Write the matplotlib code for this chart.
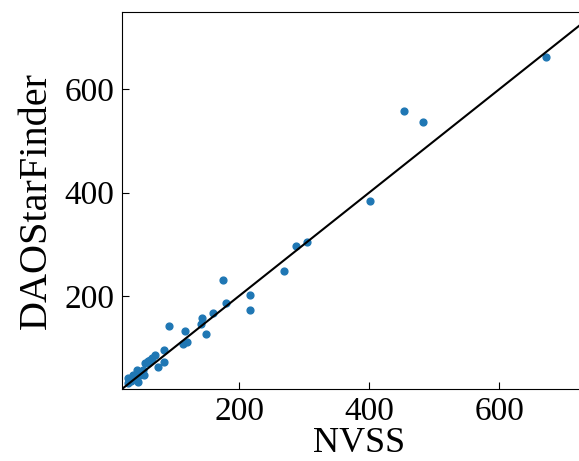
import matplotlib
matplotlib.use('Agg')
import matplotlib.pyplot as plt

# flux comparison: NVSS catalogue vs DAOStarFinder
nvss = [672, 454, 482, 401, 288, 304, 269,
        175, 216, 216, 179, 160, 143, 141, 149, 92, 117, 119, 114, 85,
        85, 75, 71, 60, 66, 62, 52, 44, 39, 34, 29, 54, 44,
        55, 60, 47, 42, 37, 29]
dao = [662, 558, 536, 384, 297, 305, 248,
       230, 202, 172, 187, 166, 158, 145, 126, 142, 131, 111, 106, 96,
       72, 62, 85, 70, 79, 76, 56, 47, 40, 35, 31, 47, 34,
       69, 74, 47, 56, 47, 40]

plt.rcParams['font.family'] = ['Liberation Serif', 'DejaVu Serif']

fig = plt.figure(figsize=(5.79, 4.61), dpi=100)
ax = fig.add_axes([0.21, 0.1555, 0.8207, 0.819])

ax.scatter(nvss, dao, s=24, color='#1f77b4', zorder=2)
ax.plot([0, 800], [0, 800], color='black', linewidth=1.5, zorder=3)

ax.set_xlim(19, 750)
ax.set_ylim(19, 750)
ax.set_xticks([200, 400, 600])
ax.set_yticks([200, 400, 600])
ax.tick_params(direction='in', labelsize=24, length=5, pad=5)
ax.set_xlabel('NVSS', fontsize=26, labelpad=0)
ax.set_ylabel('DAOStarFinder', fontsize=29, labelpad=7)

fig.savefig('out.png', dpi=100)
